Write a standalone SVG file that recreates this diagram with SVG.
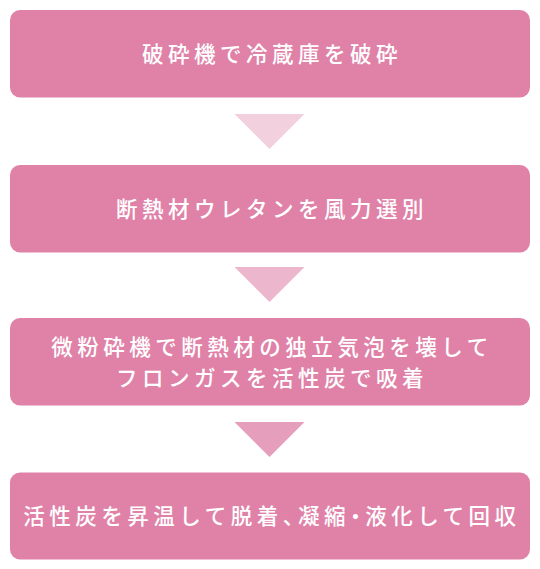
<svg xmlns="http://www.w3.org/2000/svg" width="540" height="569" viewBox="0 0 540 569">
<style>
.box{fill:#e082a8;}
.lbl{font-family:"Noto Sans CJK JP","Noto Sans CJK SC",sans-serif;font-size:21.5px;font-weight:500;fill:#ffffff;letter-spacing:4.5px;text-anchor:middle;}
.half{font-feature-settings:"halt" 1;}
</style>
<rect width="540" height="569" fill="#ffffff"/>
<g id="connectors">
<polygon points="234.5,114 304.5,114 269.5,149" fill="#f2d0de"/>
<polygon points="234.5,267 304.5,267 269.5,302" fill="#ecb6cd"/>
<polygon points="234.5,422 304.5,422 269.5,457" fill="#e69ebd"/>
</g>
<g id="node1">
<rect class="box" x="10" y="10" width="520" height="87.5" rx="10"/>
<text class="lbl" x="272" y="62">破砕機で冷蔵庫を破砕</text>
</g>
<g id="node2">
<rect class="box" x="10" y="165" width="520" height="87.5" rx="10"/>
<text class="lbl" x="272" y="217">断熱材ウレタンを風力選別</text>
</g>
<g id="node3">
<rect class="box" x="10" y="318" width="520" height="87.5" rx="10"/>
<text class="lbl" x="272" y="355">微粉砕機で断熱材の独立気泡を壊して</text>
<text class="lbl" x="272" y="385.5">フロンガスを活性炭で吸着</text>
</g>
<g id="node4">
<rect class="box" x="10" y="472.5" width="520" height="87" rx="10"/>
<text class="lbl" x="272" y="524">活性炭を昇温して脱着<tspan class="half">、</tspan>凝縮<tspan class="half">・</tspan>液化して回収</text>
</g>
</svg>
